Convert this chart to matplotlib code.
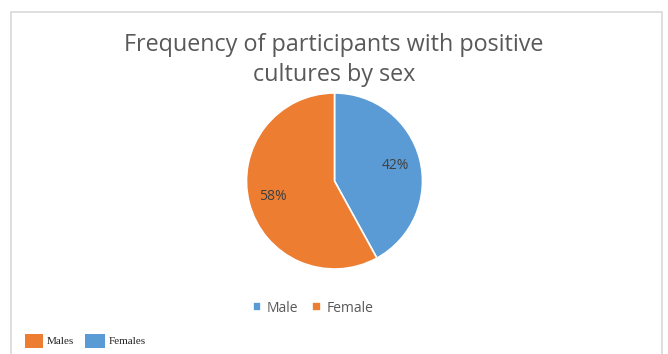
import matplotlib
matplotlib.use("Agg")
import matplotlib.pyplot as plt
from matplotlib.patches import Rectangle

labels = ["Male", "Female"]
values = [42, 58]
colors = ["#5B9BD5", "#ED7D31"]
outer_labels = ["Males", "Females"]
outer_colors = ["#ED7D31", "#5B9BD5"]
title_lines = ["Frequency of participants with positive", "cultures by sex"]

W, H = 668, 354
fig = plt.figure(figsize=(W / 100, H / 100), dpi=100)
fig.patch.set_facecolor("white")

# chart border
fig.patches.append(Rectangle((11 / W, -0.05), (662 - 11) / W, (H - 12) / H + 0.05,
                             transform=fig.transFigure, fill=False,
                             edgecolor="#D9D9D9", linewidth=1.2))

cx, cy, r = 334.5, 181, 88
ax = fig.add_axes([(cx - r) / W, 1 - (cy + r) / H, 2 * r / W, 2 * r / H])
wedges, texts, autotexts = ax.pie(values, colors=colors, startangle=90, counterclock=False,
                                  autopct="%1.0f%%", pctdistance=0.72,
                                  wedgeprops=dict(edgecolor="white", linewidth=1.2),
                                  textprops=dict(color="#404040", fontsize=10, family="Open Sans"))
ax.set_aspect("equal")
ax.set_xlim(-1, 1)
ax.set_ylim(-1, 1)

for line, y in zip(title_lines, [45, 75]):
    fig.text(334 / W, 1 - y / H, line, ha="center", va="center", fontsize=16.8,
             color="#595959", family="Open Sans")

leg = fig.legend(wedges, labels, loc="center", bbox_to_anchor=(313 / W, 1 - 308 / H),
                 ncol=2, frameon=False, handlelength=0.6, handleheight=0.6,
                 handletextpad=0.4, columnspacing=1.0, prop=dict(family="Open Sans", size=10))
for t in leg.get_texts():
    t.set_color("#595959")

# bottom-left legend (serif)
for i, (lab, col) in enumerate(zip(outer_labels, outer_colors)):
    x0, w = [(25, 18), (85, 20)][i]
    fig.patches.append(Rectangle((x0 / W, 1 - 348 / H), w / W, 14 / H,
                                 transform=fig.transFigure, facecolor=col, edgecolor="none"))
    fig.text((x0 + w + 4) / W, 1 - 341.5 / H, lab, ha="left", va="center", fontsize=8,
             family="Liberation Serif", color="#222222")

fig.savefig("out.png", dpi=100)
